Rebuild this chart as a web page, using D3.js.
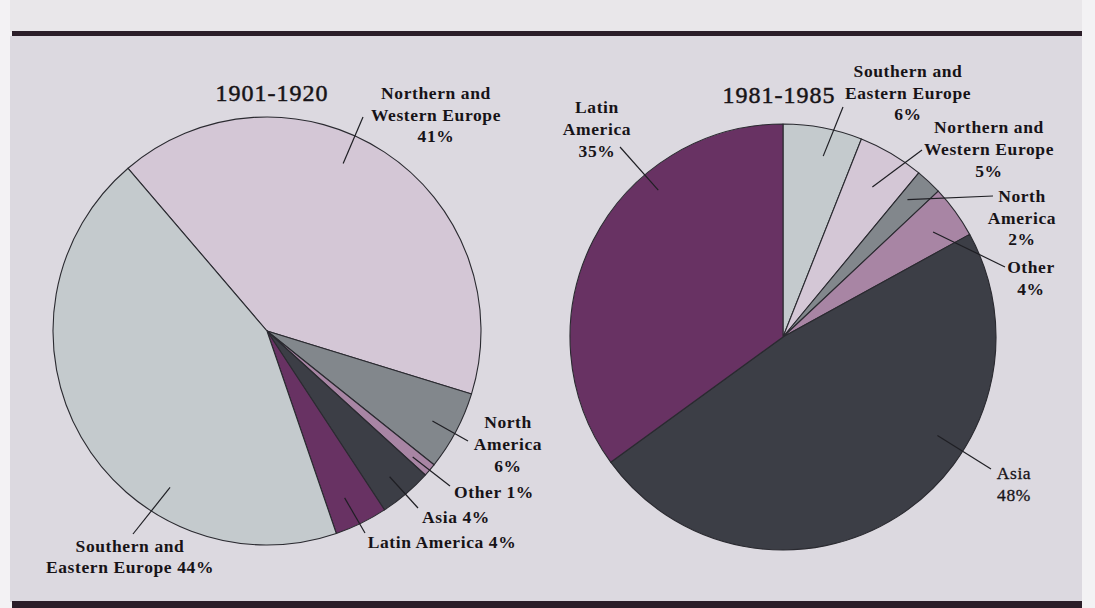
<!DOCTYPE html>
<html>
	<head>
		<title>Immigration by region of origin</title>
		<script src="https://d3js.org/d3.v7.min.js"></script>
		<style>
			body { margin: 0; background: #f2f1f3; }
			svg { display: block; }
			text { font-family: "Liberation Serif", "DejaVu Serif", serif; fill: #171317; }
		</style>
	</head>
	<body>
		<svg width="1095" height="608"></svg>

		<script type="text/javascript">
			// regions and shares (percent)
			var regions = ["Northern and Western Europe", "Southern and Eastern Europe", "North America", "Latin America", "Asia", "Other"];
			var share1901 = [41, 44, 6, 4, 4, 1];
			var share1981 = [5, 6, 2, 35, 48, 4];
			// clockwise order of slices in each pie
			var order1901 = ["Northern and Western Europe", "North America", "Other", "Asia", "Latin America", "Southern and Eastern Europe"];
			var order1981 = ["Southern and Eastern Europe", "Northern and Western Europe", "North America", "Other", "Asia", "Latin America"];
			var titles = ["1901-1920", "1981-1985"];

			var color = d3.scaleOrdinal()
				.domain(regions)
				.range(["#d4c7d6", "#c4cacd", "#82878c", "#683263", "#3c3e46", "#a885a4"]);

			var svg = d3.select("svg");

			// page / scan background
			svg.append("rect").attr("x", 0).attr("y", 0).attr("width", 1095).attr("height", 608).attr("fill", "#f3f2f4");
			svg.append("rect").attr("x", 10).attr("y", 0).attr("width", 1072).attr("height", 32).attr("fill", "#e9e7ea");
			svg.append("rect").attr("x", 10).attr("y", 36).attr("width", 1072).attr("height", 566).attr("fill", "#dcd9e0");
			svg.append("rect").attr("x", 12).attr("y", 31).attr("width", 1070).attr("height", 5).attr("fill", "#2b1e29");
			svg.append("rect").attr("x", 12).attr("y", 601).attr("width", 1070).attr("height", 7).attr("fill", "#2b1e29");

			// label layout: t = position along slice angle, k = fraction of radius
			var labels1901 = [
				{ region: "Northern and Western Europe", lines: ["Northern and", "Western Europe", "41%"], x: 436, y: 99, lh: 21.5, t: 0.44, k: 0.86, end: [363, 117] },
				{ region: "North America", lines: ["North", "America", "6%"], x: 508, y: 428, lh: 22, t: 0.53, k: 0.88, end: [468, 441] },
				{ region: "Other", lines: ["Other 1%"], x: 494, y: 498, lh: 22, t: 0.6, k: 0.9, end: [450, 486] },
				{ region: "Asia", lines: ["Asia 4%"], x: 456, y: 523, lh: 22, t: 0.53, k: 0.89, end: [418, 508] },
				{ region: "Latin America", lines: ["Latin America 4%"], x: 442, y: 548, lh: 22, t: 0.58, k: 0.86, end: [365, 533] },
				{ region: "Southern and Eastern Europe", lines: ["Southern and", "Eastern Europe 44%"], x: 130, y: 552, lh: 21, t: 0.32, k: 0.86, end: [133, 534] }
			];
			var labels1981 = [
				{ region: "Southern and Eastern Europe", lines: ["Southern and", "Eastern Europe", "6%"], x: 908, y: 77, lh: 21.5, t: 0.58, k: 0.87, end: [843, 107] },
				{ region: "Northern and Western Europe", lines: ["Northern and", "Western Europe", "5%"], x: 989, y: 133, lh: 22, t: 0.51, k: 0.82, end: [922, 150] },
				{ region: "North America", lines: ["North", "America", "2%"], x: 1022, y: 202, lh: 21.5, t: 0.36, k: 0.87, end: [993, 196] },
				{ region: "Other", lines: ["Other", "4%"], x: 1031, y: 273, lh: 22, t: 0.57, k: 0.86, end: [1005, 267] },
				{ region: "Asia", lines: ["Asia", "48%"], x: 1014, y: 479, lh: 22, t: 0.355, k: 0.86, end: [991, 469], weight: "normal" },
				{ region: "Latin America", lines: ["Latin", "America", "35%"], x: 597, y: 113, lh: 22, t: 0.68, k: 0.905, end: [620, 147] }
			];

			drawPie({ cx: 267, cy: 331, r: 214, start: -40.5, shares: share1901, order: order1901, labels: labels1901, title: titles[0], tx: 272, ty: 101 });
			drawPie({ cx: 783, cy: 337, r: 213, start: 0, shares: share1981, order: order1981, labels: labels1981, title: titles[1], tx: 779, ty: 103 });

			function drawPie(p) {
				var data = p.order.map(function(name) {
					return { region: name, value: p.shares[regions.indexOf(name)] };
				});

				var start = p.start * Math.PI / 180;
				var pie = d3.pie()
					.sort(null)
					.value(function(d) { return d.value; })
					.startAngle(start)
					.endAngle(start + 2 * Math.PI);

				var arc = d3.arc().innerRadius(0).outerRadius(p.r);
				var arcs = pie(data);

				var g = svg.append("g").attr("transform", "translate(" + p.cx + "," + p.cy + ")");

				g.selectAll("path")
					.data(arcs)
					.enter().append("path")
					.attr("d", arc)
					.attr("fill", function(d) { return color(d.data.region); })
					.attr("stroke", "#2a2a30")
					.attr("stroke-width", 1.1)
					.attr("stroke-linejoin", "round");

				svg.append("text")
					.attr("x", p.tx)
					.attr("y", p.ty)
					.attr("text-anchor", "middle")
					.attr("font-size", 24)
					.attr("letter-spacing", 1)
					.attr("stroke", "#171317")
					.attr("stroke-width", 0.5)
					.text(p.title);

				// leader lines and labels
				p.labels.forEach(function(l) {
					var s = arcs.filter(function(a) { return a.data.region === l.region; })[0];
					var a = s.startAngle + l.t * (s.endAngle - s.startAngle);
					var x0 = p.cx + p.r * l.k * Math.sin(a);
					var y0 = p.cy - p.r * l.k * Math.cos(a);

					svg.append("line")
						.attr("x1", x0).attr("y1", y0)
						.attr("x2", l.end[0]).attr("y2", l.end[1])
						.attr("stroke", "#1f1f24")
						.attr("stroke-width", 1.2);

					var t = svg.append("text")
						.attr("text-anchor", "middle")
						.attr("font-size", 17.5)
						.attr("font-weight", l.weight || "bold")
						.attr("letter-spacing", 0.6);

					if (l.weight) t.attr("stroke", "#171317").attr("stroke-width", 0.3);

					t.selectAll("tspan")
						.data(l.lines)
						.enter().append("tspan")
						.attr("x", l.x)
						.attr("y", function(d, i) { return l.y + i * l.lh; })
						.text(function(d) { return d; });
				});
			}
		</script>
	</body>
</html>
